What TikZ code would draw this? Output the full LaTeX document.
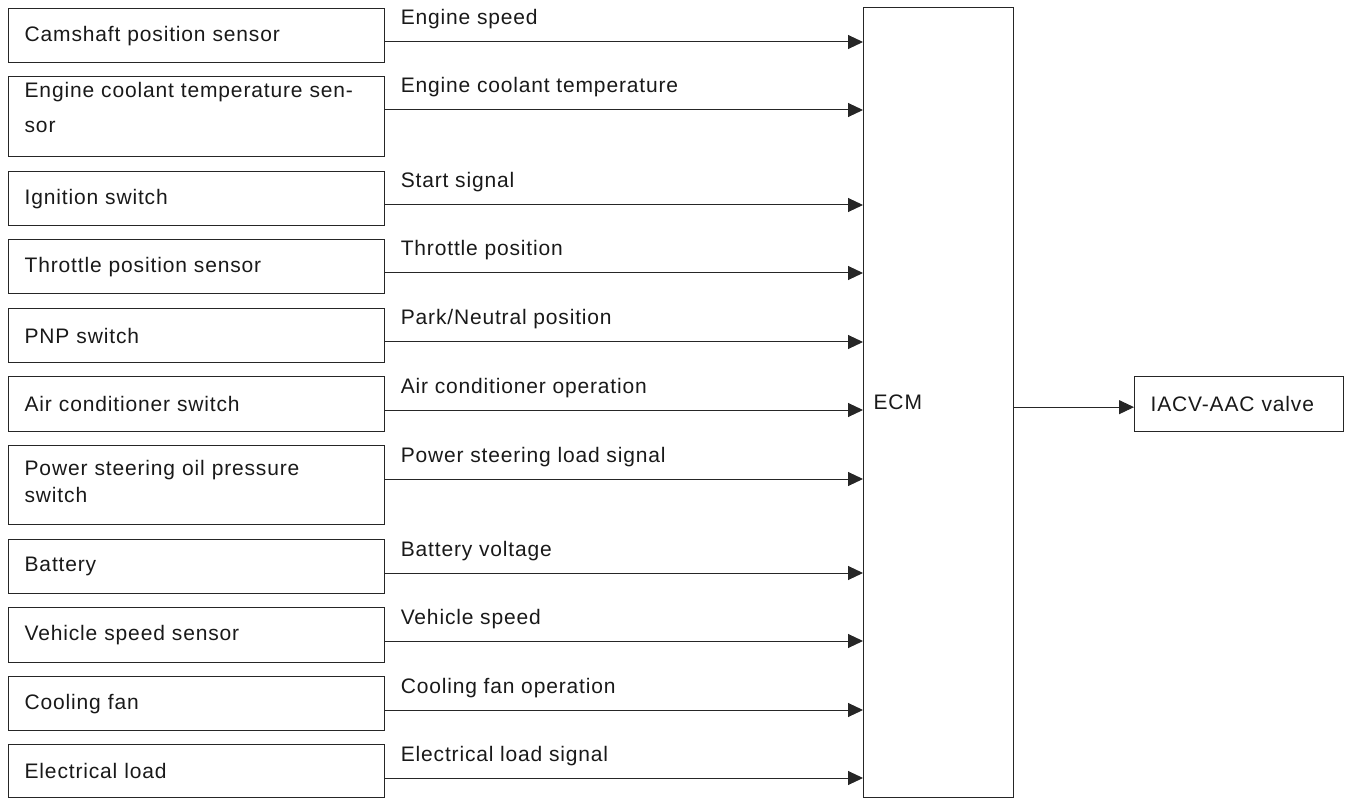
\documentclass[tikz,border=0pt]{standalone}
\usepackage{fontspec}
\setmainfont[LetterSpace=4]{Liberation Sans}
\usetikzlibrary{arrows.meta}

\begin{document}
\begin{tikzpicture}[x=1pt, y=1pt,
	font=\fontsize{21}{27}\selectfont, text=black!90,
	inbox/.style={draw=black!85, line width=1.3pt, anchor=north west, minimum width=376pt, text width=344pt, inner xsep=16pt, inner ysep=0pt, align=left},
	sig/.style={draw=black!85, line width=1pt, -{Triangle[length=15pt, width=14pt]}},
	siglbl/.style={anchor=base west, inner sep=0pt, xshift=15pt, yshift=17pt}]

	\useasboundingbox (0,0) rectangle (1346,-799);

	% ECM and output
	\node[draw=black!85, line width=1.3pt, anchor=north west, minimum height=790pt, text width=130pt, inner xsep=10pt, align=left] (ecm) at (863,-7) {ECM};
	\node[draw=black!85, line width=1.3pt, anchor=north west, minimum height=55pt, text width=177pt, inner xsep=16pt, align=left] (iacv) at (1134,-376) {IACV-AAC valve};
	\coordinate (iacv-i) at ([yshift=-3pt]iacv.west);
	\draw[sig] (iacv-i -| ecm.east) -- (iacv-i);

	% input boxes
	\node[inbox, minimum height=54pt] (cam) at (8,-8) {Camshaft position sensor};
	\node[inbox, text depth=54pt, minimum height=80pt] (ect) at (8,-76) {Engine coolant temperature sen-\\[8pt]sor};
	\node[inbox, minimum height=54pt] (ign) at (8,-171) {Ignition switch};
	\node[inbox, minimum height=54pt] (tps) at (8,-239) {Throttle position sensor};
	\node[inbox, minimum height=54pt] (pnp) at (8,-308) {PNP switch};
	\node[inbox, minimum height=55pt] (acs) at (8,-376) {Air conditioner switch};
	\node[inbox, text depth=34pt, minimum height=79pt] (psp) at (8,-445) {Power steering oil pressure\\switch};
	\node[inbox, minimum height=54pt] (bat) at (8,-539) {Battery};
	\node[inbox, minimum height=55pt] (vss) at (8,-607) {Vehicle speed sensor};
	\node[inbox, minimum height=54pt] (fan) at (8,-676) {Cooling fan};
	\node[inbox, minimum height=53pt] (eld) at (8,-744) {Electrical load};

	% signal lines
	\coordinate (cam-o) at ([yshift=-34pt]cam.north east);
	\coordinate (ect-o) at ([yshift=-34pt]ect.north east);
	\coordinate (ign-o) at ([yshift=-34pt]ign.north east);
	\coordinate (tps-o) at ([yshift=-34pt]tps.north east);
	\coordinate (pnp-o) at ([yshift=-34pt]pnp.north east);
	\coordinate (acs-o) at ([yshift=-34pt]acs.north east);
	\coordinate (psp-o) at ([yshift=-34pt]psp.north east);
	\coordinate (bat-o) at ([yshift=-34pt]bat.north east);
	\coordinate (vss-o) at ([yshift=-34pt]vss.north east);
	\coordinate (fan-o) at ([yshift=-34pt]fan.north east);
	\coordinate (eld-o) at ([yshift=-34pt]eld.north east);

	\draw[sig] (cam-o) -- (cam-o -| ecm.west) node[siglbl, pos=0] {Engine speed};
	\draw[sig] (ect-o) -- (ect-o -| ecm.west) node[siglbl, pos=0] {Engine coolant temperature};
	\draw[sig] (ign-o) -- (ign-o -| ecm.west) node[siglbl, pos=0] {Start signal};
	\draw[sig] (tps-o) -- (tps-o -| ecm.west) node[siglbl, pos=0] {Throttle position};
	\draw[sig] (pnp-o) -- (pnp-o -| ecm.west) node[siglbl, pos=0] {Park/Neutral position};
	\draw[sig] (acs-o) -- (acs-o -| ecm.west) node[siglbl, pos=0] {Air conditioner operation};
	\draw[sig] (psp-o) -- (psp-o -| ecm.west) node[siglbl, pos=0] {Power steering load signal};
	\draw[sig] (bat-o) -- (bat-o -| ecm.west) node[siglbl, pos=0] {Battery voltage};
	\draw[sig] (vss-o) -- (vss-o -| ecm.west) node[siglbl, pos=0] {Vehicle speed};
	\draw[sig] (fan-o) -- (fan-o -| ecm.west) node[siglbl, pos=0] {Cooling fan operation};
	\draw[sig] (eld-o) -- (eld-o -| ecm.west) node[siglbl, pos=0] {Electrical load signal};
\end{tikzpicture}
\end{document}
